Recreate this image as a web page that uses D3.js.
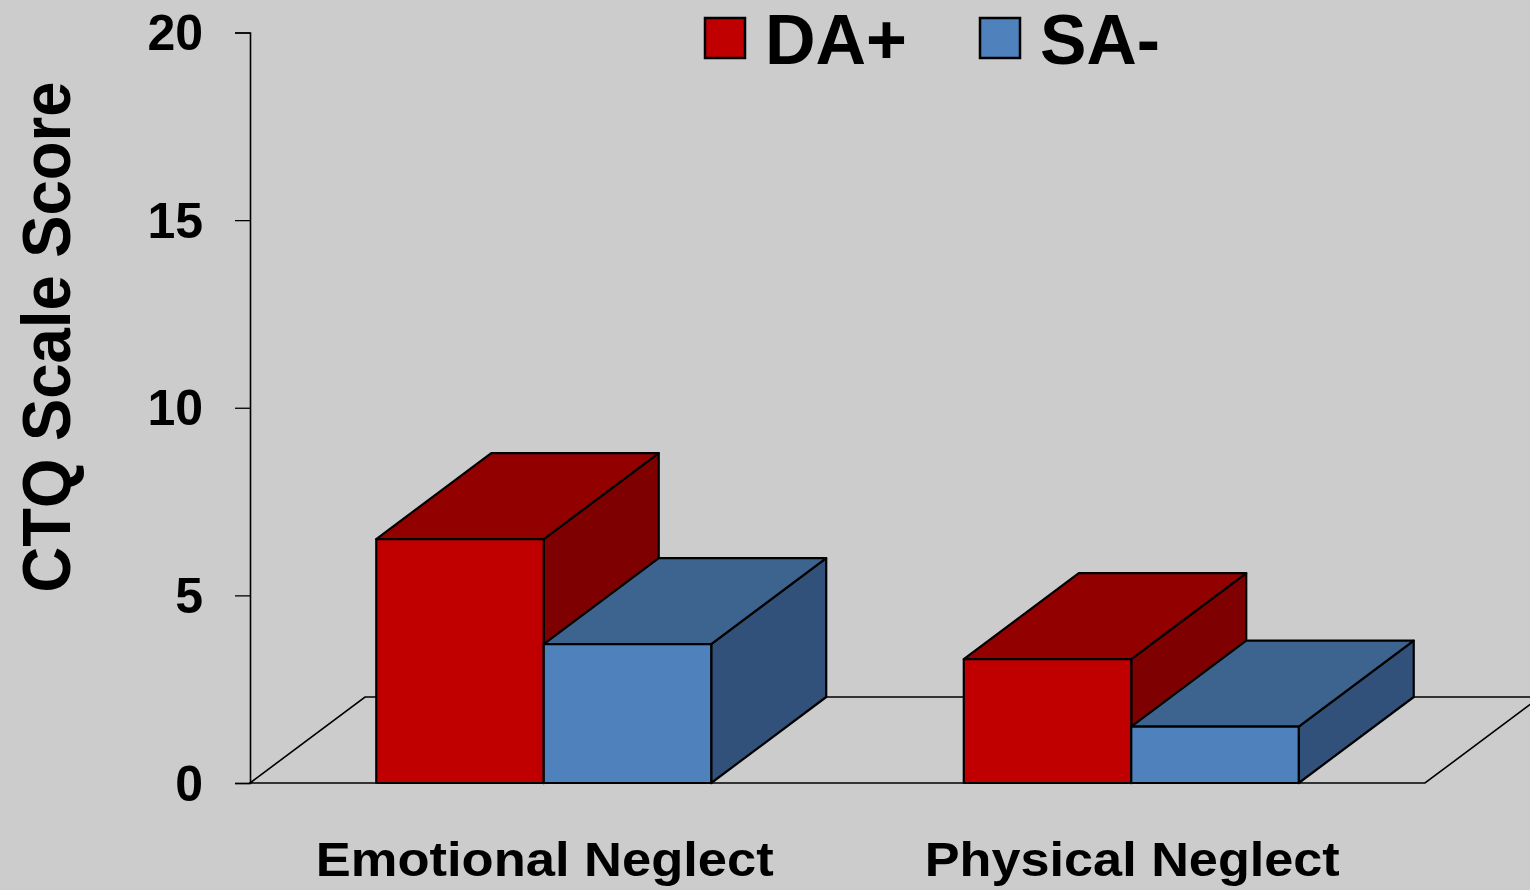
<!DOCTYPE html>
<html><head><meta charset="utf-8">
<script src="https://cdn.jsdelivr.net/npm/d3@7"></script>
<style>html,body{margin:0;padding:0;background:#cccccc;overflow:hidden}</style>
</head>
<body>
<svg id="c" width="1530" height="890"></svg>
<script>
const categories = ["Emotional Neglect", "Physical Neglect"];
const seriesNames = ["DA+", "SA-"];
const daPlus = [6.5, 3.3];
const saMinus = [3.7, 1.5];
const yTicks = [0, 5, 10, 15, 20];

const seriesValues = [daPlus, saMinus];
const colors = {
  "DA+": {front: "#c00000", top: "#930000", side: "#7e0000"},
  "SA-": {front: "#4f81bd", top: "#3d638f", side: "#31517a"}
};

const W = 1530, H = 890;
const svg = d3.select("#c");
svg.append("rect").attr("width", W).attr("height", H).attr("fill", "#cccccc");

const x0 = d3.scaleBand().domain(categories).range([250, 1425]).paddingInner(0).paddingOuter(0);
const x1 = d3.scaleBand().domain(seriesNames).range([0, x0.bandwidth()]).paddingInner(0).paddingOuter(0.754);
const y = d3.scaleLinear().domain([0, 20]).range([783, 32.5]);
const dx = 115, dy = 86;
const font = "'Liberation Sans', Arial, sans-serif";

// floor
const y0 = y(0);
const fl = x0.range()[0], fr = x0.range()[1];
svg.append("path")
  .attr("d", `M${fl},${y0} L${fl+dx},${y0-dy} L${fr+dx},${y0-dy} L${fr},${y0} Z`)
  .attr("fill", "none").attr("stroke", "#000").attr("stroke-width", 1.6);

// y axis
const yAxis = d3.axisLeft(y).tickValues(yTicks).tickSize(15).tickFormat("");
const gAxis = svg.append("g").attr("transform", "translate(250,0)").call(yAxis);
gAxis.select(".domain").attr("stroke", "#000").attr("stroke-width", 1.6);
gAxis.selectAll(".tick line").attr("stroke", "#000").attr("stroke-width", 1.3);

svg.append("g").selectAll("text").data(yTicks).join("text")
  .attr("x", 203).attr("y", d => y(d) + 17.5)
  .attr("text-anchor", "end")
  .attr("font-family", font).attr("font-weight", "bold").attr("font-size", 50)
  .attr("fill", "#000")
  .text(d => d);

// bars
const bars = [];
categories.forEach((c, i) => {
  seriesNames.forEach((s, j) => {
    bars.push({cat: c, ser: s, v: seriesValues[j][i]});
  });
});
const gb = svg.append("g");
bars.forEach(b => {
  const x = x0(b.cat) + x1(b.ser);
  const w = x1.bandwidth();
  const yt = y(b.v);
  const col = colors[b.ser];
  const g = gb.append("g").attr("stroke", "#000").attr("stroke-width", 2.2).attr("stroke-linejoin", "round");
  g.append("path")
    .attr("d", `M${x+w},${yt} L${x+w+dx},${yt-dy} L${x+w+dx},${y0-dy} L${x+w},${y0} Z`)
    .attr("fill", col.side);
  g.append("path")
    .attr("d", `M${x},${yt} L${x+dx},${yt-dy} L${x+w+dx},${yt-dy} L${x+w},${yt} Z`)
    .attr("fill", col.top);
  g.append("rect")
    .attr("x", x).attr("y", yt).attr("width", w).attr("height", y0 - yt)
    .attr("fill", col.front);
});

// category labels
const catLen = {"Emotional Neglect": 458, "Physical Neglect": 415};
svg.append("g").selectAll("text").data(categories).join("text")
  .attr("x", d => x0(d) + x0.bandwidth() / 2 + 1)
  .attr("y", 876)
  .attr("text-anchor", "middle")
  .attr("font-family", font).attr("font-weight", "bold").attr("font-size", 49)
  .attr("textLength", d => catLen[d]).attr("lengthAdjust", "spacingAndGlyphs")
  .attr("fill", "#000")
  .text(d => d);

// y label
svg.append("text")
  .attr("transform", "translate(69.5,337) rotate(-90)")
  .attr("text-anchor", "middle")
  .attr("font-family", font).attr("font-weight", "bold").attr("font-size", 68)
  .attr("textLength", 511).attr("lengthAdjust", "spacingAndGlyphs")
  .attr("fill", "#000")
  .text("CTQ Scale Score");

// legend
const legX = {"DA+": 705, "SA-": 980};
const legLen = {"DA+": 142, "SA-": 120};
const lg = svg.append("g");
seriesNames.forEach(s => {
  lg.append("rect").attr("x", legX[s]).attr("y", 18).attr("width", 40).attr("height", 40)
    .attr("fill", colors[s].front).attr("stroke", "#000").attr("stroke-width", 2.5);
  lg.append("text").attr("x", legX[s] + 60).attr("y", 64)
    .attr("font-family", font).attr("font-weight", "bold").attr("font-size", 70)
    .attr("textLength", legLen[s]).attr("lengthAdjust", "spacingAndGlyphs")
    .attr("fill", "#000").text(s);
});
</script>
</body></html>
